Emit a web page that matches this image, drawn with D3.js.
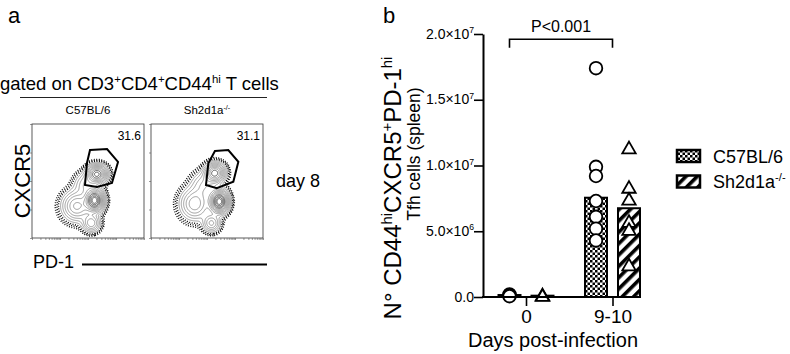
<!DOCTYPE html>
<html>
<head>
<meta charset="utf-8">
<script src="https://cdn.jsdelivr.net/npm/d3@7"></script>
<style>
body { margin: 0; background: #fff; }
text { font-family: "Liberation Sans", Arial, Helvetica, sans-serif; fill: #000; }
</style>
</head>
<body>
<svg width="790" height="354"></svg>
<script>
// ---- panel b data ----
var days = ["0", "9-10"];
var strains = ["C57BL/6", "Sh2d1a-/-"];
var c57Mean = [1.5e5, 7.55e6];
var shMean = [1.0e5, 6.75e6];
var c57Points = [[2.0e5, 1.2e5, 0.6e5], [1.74e7, 9.9e6, 9.2e6, 7.3e6, 6.1e6, 5.2e6, 4.3e6]];
var shPoints = [[1.2e5, 0.7e5], [1.13e7, 8.3e6, 7.4e6, 5.7e6, 5.1e6, 2.4e6]];
var yTicks = [0, 5e6, 1e7, 1.5e7, 2e7];
var yTickMant = ["0.0", "5.0×10", "1.0×10", "1.5×10", "2.0×10"];
var yTickExp = ["", "6", "7", "7", "7"];
var pLabel = "P<0.001";

// ---- panel a data (axis units 0-100) ----
var flowSamples = ["C57BL/6", "Sh2d1a-/-"];
var gatePct = ["31.6", "31.1"];
// populations: [cx, cy, sx, sy, weight]
var popsC57 = [[58, 56, 5, 4.5, 0.9], [56, 33, 4.5, 5.5, 1.2], [40, 28, 7.5, 7.5, 0.4], [53, 13, 4.5, 4.5, 0.35], [48, 47, 6, 6, 0.2]];
var popsSh = [[57, 57, 5, 4.8, 0.9], [61, 32, 4.5, 5.5, 1.4], [39, 30, 7.5, 8, 0.4], [54, 13, 4.5, 4.5, 0.35], [47, 47, 6.5, 6.5, 0.22]];
var gateC57 = [[51.8, 77.2], [67, 78], [76.8, 66.7], [71.4, 48.2], [58, 44.7], [47.3, 46.5], [49.1, 65.8]];
var gateSh = [[57.1, 76.3], [69, 77.2], [78, 66.9], [73.5, 49.4], [58.7, 43.6], [49.1, 46.5], [51.2, 65.5]];

var svg = d3.select("svg");
var defs = svg.append("defs");

// patterns
var chk = defs.append("pattern").attr("id", "checker").attr("patternUnits", "userSpaceOnUse")
    .attr("width", 5).attr("height", 5);
chk.append("rect").attr("width", 5).attr("height", 5).attr("fill", "#fff");
chk.append("rect").attr("width", 2.5).attr("height", 2.5).attr("fill", "#000");
chk.append("rect").attr("x", 2.5).attr("y", 2.5).attr("width", 2.5).attr("height", 2.5).attr("fill", "#000");

var hatch = defs.append("pattern").attr("id", "hatch").attr("patternUnits", "userSpaceOnUse")
    .attr("width", 8).attr("height", 8).attr("patternTransform", "rotate(45)");
hatch.append("rect").attr("width", 8).attr("height", 8).attr("fill", "#fff");
hatch.append("rect").attr("width", 3.6).attr("height", 8).attr("fill", "#000");

// text with superscripts: parts = [[str, isSup], ...]
function richText(sel, parts, size) {
    sel.attr("font-size", size);
    var cur = 0;
    parts.forEach(function (p) {
        var target = p[1] ? -size * 0.38 : 0;
        var t = sel.append("tspan").attr("font-size", p[1] ? size * 0.62 : size);
        if (target !== cur) t.attr("dy", target - cur);
        cur = target;
        t.text(p[0]);
    });
    return sel;
}

// ---------------- panel a ----------------
svg.append("text").attr("x", 8).attr("y", 23).attr("font-size", 22).text("a");

richText(svg.append("text").attr("x", 0).attr("y", 90),
    [["gated on CD3"], ["+", 1], ["CD4"], ["+", 1], ["CD44"], ["hi", 1], [" T cells"]], 18.5);
svg.append("line").attr("x1", 20).attr("x2", 267).attr("y1", 97.5).attr("y2", 97.5)
    .attr("stroke", "#222").attr("stroke-width", 1.2);

var boxW = 112, boxH = 114, boxTop = 124, boxLeft = [32, 151];
var nx = 112, ny = 114;
var dotLevels = [0.012, 0.02, 0.03];
var lineLevels = [0.05, 0.08, 0.12, 0.17, 0.23, 0.3, 0.38, 0.47, 0.57, 0.68, 0.8, 0.9];

function density(pops, u, v) {
    var s = 0;
    pops.forEach(function (p) {
        var dx = (u - p[0]) / p[2], dy = (v - p[1]) / p[3];
        s += p[4] * Math.exp(-0.5 * (dx * dx + dy * dy));
    });
    return s;
}

[[popsC57, gateC57], [popsSh, gateSh]].forEach(function (d, k) {
    var x0 = boxLeft[k];
    var fx = d3.scaleLinear().domain([0, 100]).range([x0, x0 + boxW]);
    var fy = d3.scaleLinear().domain([0, 100]).range([boxTop + boxH, boxTop]);
    var gx = d3.scaleLinear().domain([0, nx]).range([x0, x0 + boxW]);
    var gy = d3.scaleLinear().domain([0, ny]).range([boxTop, boxTop + boxH]);
    var g = svg.append("g");

    var head = g.append("text").attr("x", x0 + boxW / 2).attr("y", 114).attr("text-anchor", "middle");
    if (k === 0) head.attr("font-size", 11.5).text(flowSamples[0]);
    else richText(head, [["Sh2d1a"], ["-/-", 1]], 11.5);

    var values = new Array(nx * ny);
    for (var j = 0; j < ny; j++) {
        for (var i = 0; i < nx; i++) {
            values[j * nx + i] = density(d[0], fx.invert(gx(i + 0.5)), fy.invert(gy(j + 0.5)));
        }
    }
    var vmax = d3.max(values);
    var path = d3.geoPath(d3.geoTransform({
        point: function (x, y) { this.stream.point(gx(x), gy(y)); }
    }));
    var contours = d3.contours().size([nx, ny]);

    g.append("clipPath").attr("id", "clip" + k).append("rect")
        .attr("x", x0).attr("y", boxTop).attr("width", boxW).attr("height", boxH);
    var cg = g.append("g").attr("clip-path", "url(#clip" + k + ")");

    cg.selectAll("path.dot")
        .data(contours.thresholds(dotLevels.map(function (l) { return l * vmax; }))(values))
        .enter().append("path").attr("class", "dot")
        .attr("d", path).attr("fill", "none").attr("stroke", "#000")
        .attr("stroke-width", 1.5).attr("stroke-dasharray", "0.9 1.6");

    cg.selectAll("path.lvl")
        .data(contours.thresholds(lineLevels.map(function (l) { return l * vmax; }))(values))
        .enter().append("path").attr("class", "lvl")
        .attr("d", path).attr("fill", "none")
        .attr("stroke", function (c, i) { return i > 7 ? "#222" : "#777"; })
        .attr("stroke-width", 0.7);

    // gate
    g.append("path").attr("d", d3.line().x(function (p) { return fx(p[0]); }).y(function (p) { return fy(p[1]); })
        .curve(d3.curveLinearClosed)(d[1]))
        .attr("fill", "none").attr("stroke", "#000").attr("stroke-width", 2);

    g.append("text").attr("x", x0 + boxW - 3).attr("y", boxTop + 15.5).attr("text-anchor", "end")
        .attr("font-size", 12).text(gatePct[k]);

    // frame + ticks
    g.append("rect").attr("x", x0).attr("y", boxTop).attr("width", boxW).attr("height", boxH)
        .attr("fill", "none").attr("stroke", "#333").attr("stroke-width", 0.8);
    var lx = d3.scaleLog().domain([10, 1e5]).range([x0, x0 + boxW]);
    var ly = d3.scaleLog().domain([10, 1e5]).range([boxTop + boxH, boxTop]);
    g.append("g").attr("transform", "translate(0," + (boxTop + boxH) + ")")
        .call(d3.axisBottom(lx).tickSize(2).tickSizeOuter(0).tickFormat(""))
        .call(function (a) { a.select(".domain").remove(); a.selectAll("line").attr("stroke", "#555").attr("stroke-width", 0.6); });
    g.append("g").attr("transform", "translate(" + x0 + ",0)")
        .call(d3.axisLeft(ly).ticks(4).tickSize(2).tickSizeOuter(0).tickFormat(""))
        .call(function (a) { a.select(".domain").remove(); a.selectAll("line").attr("stroke", "#555").attr("stroke-width", 0.6); });
});

svg.append("text").attr("transform", "translate(30,181) rotate(-90)").attr("text-anchor", "middle")
    .attr("font-size", 22).text("CXCR5");
svg.append("text").attr("x", 33).attr("y", 268).attr("font-size", 18).text("PD-1");
svg.append("line").attr("x1", 82).attr("x2", 267).attr("y1", 264.5).attr("y2", 264.5)
    .attr("stroke", "#000").attr("stroke-width", 2);
svg.append("text").attr("x", 276).attr("y", 187).attr("font-size", 18).text("day 8");

// ---------------- panel b ----------------
svg.append("text").attr("x", 383).attr("y", 23).attr("font-size", 22).text("b");

var y = d3.scaleLinear().domain([0, 2e7]).range([297, 34]);
var xg = d3.scalePoint().domain(days).range([526, 612.5]);
var xs = d3.scalePoint().domain(strains).range([-16.5, 16.5]);
var barW = 22;
var axisLeftX = 483, axisRightX = 641;

// bars
[[c57Mean, "url(#checker)"], [shMean, "url(#hatch)"]].forEach(function (s, si) {
    svg.selectAll(".bar" + si).data(s[0]).enter().append("rect")
        .attr("x", function (v, i) { return xg(days[i]) + xs(strains[si]) - barW / 2; })
        .attr("y", function (v) { return y(v); })
        .attr("width", barW)
        .attr("height", function (v) { return y(0) - y(v); })
        .attr("fill", s[1]).attr("stroke", "#000").attr("stroke-width", 2);
});

// points
c57Points.forEach(function (pts, di) {
    svg.selectAll(null).data(pts).enter().append("circle")
        .attr("cx", xg(days[di]) + xs(strains[0]))
        .attr("cy", function (v) { return y(v); })
        .attr("r", 6.3).attr("fill", "#fff").attr("stroke", "#000").attr("stroke-width", 1.8);
});
var tri = d3.symbol().type(d3.symbolTriangle).size(78);
shPoints.forEach(function (pts, di) {
    svg.selectAll(null).data(pts).enter().append("path")
        .attr("d", tri)
        .attr("transform", function (v) { return "translate(" + (xg(days[di]) + xs(strains[1])) + "," + (y(v) + 1) + ")"; })
        .attr("fill", "#fff").attr("stroke", "#000").attr("stroke-width", 1.8);
});

// y axis
var ya = svg.append("g").attr("transform", "translate(" + axisLeftX + ",0)")
    .call(d3.axisLeft(y).tickValues(yTicks).tickSize(9).tickSizeOuter(0).tickFormat(""));
ya.select(".domain").attr("stroke-width", 2);
ya.selectAll(".tick line").attr("stroke-width", 1.6);
yTicks.forEach(function (t, i) {
    richText(svg.append("text").attr("x", axisLeftX - 9).attr("y", y(t) + 4.5).attr("text-anchor", "end"),
        yTickExp[i] ? [[yTickMant[i]], [yTickExp[i], 1]] : [[yTickMant[i]]], 14);
});

// x axis
svg.append("line").attr("x1", axisLeftX - 1).attr("x2", axisRightX).attr("y1", y(0)).attr("y2", y(0))
    .attr("stroke", "#000").attr("stroke-width", 2);
var xa = svg.append("g").attr("transform", "translate(0," + y(0) + ")")
    .call(d3.axisBottom(xg).tickSize(9).tickSizeOuter(0).tickPadding(4));
xa.select(".domain").remove();
xa.selectAll(".tick line").attr("stroke-width", 1.6);
xa.selectAll(".tick text").attr("font-size", 19).attr("font-family", "Liberation Sans, Arial, sans-serif").attr("fill", "#000");

svg.append("text").attr("x", 553).attr("y", 347).attr("text-anchor", "middle").attr("font-size", 20)
    .text("Days post-infection");

// y title
richText(svg.append("text").attr("transform", "translate(401,188) rotate(-90)").attr("text-anchor", "middle"),
    [["N° CD44"], ["hi", 1], ["CXCR5"], ["+", 1], ["PD-1"], ["hi", 1]], 24);
svg.append("text").attr("transform", "translate(420,154) rotate(-90)").attr("text-anchor", "middle")
    .attr("font-size", 17.5).text("Tfh cells (spleen)");

// significance bracket
var bx1 = xg(days[0]) + xs(strains[0]), bx2 = xg(days[1]);
var bTop = y(1.96e7), bFoot = y(1.895e7);
svg.append("path").attr("d", "M" + bx1 + "," + bFoot + "V" + bTop + "H" + bx2 + "V" + bFoot)
    .attr("fill", "none").attr("stroke", "#000").attr("stroke-width", 1.6);
svg.append("text").attr("x", (bx1 + bx2) / 2).attr("y", 31.5).attr("text-anchor", "middle")
    .attr("font-size", 16).text(pLabel);

// legend
var legFill = ["url(#checker)", "url(#hatch)"];
strains.forEach(function (s, i) {
    var ly = 150 + i * 25.5;
    svg.append("rect").attr("x", 677).attr("y", ly).attr("width", 23).attr("height", 12)
        .attr("fill", legFill[i]).attr("stroke", "#000").attr("stroke-width", 2.5);
    var t = svg.append("text").attr("x", 713).attr("y", ly + 12.5);
    if (i === 0) t.attr("font-size", 18).text(s);
    else richText(t, [["Sh2d1a"], ["-/-", 1]], 18);
});
</script>
</body>
</html>
